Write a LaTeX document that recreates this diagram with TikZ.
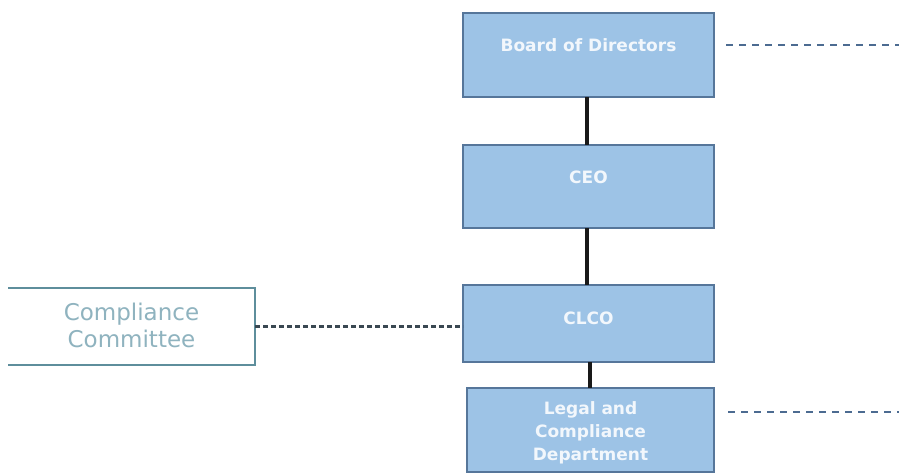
\documentclass[tikz,border=0pt]{standalone}
\usepackage{fontspec}
\setmainfont{DejaVu Sans}
\definecolor{boxfill}{HTML}{9DC3E6}
\definecolor{boxline}{HTML}{56769A}
\definecolor{boxtext}{HTML}{F2F7FC}
\definecolor{ccline}{HTML}{5E8E9C}
\definecolor{cctext}{HTML}{8FB3BF}
\definecolor{dashright}{HTML}{4C6B91}
\definecolor{dashleft}{HTML}{3A4852}
\begin{document}
\begin{tikzpicture}[x=1pt,y=-1pt,
  orgbox/.style={draw=boxline,line width=2.5pt,fill=boxfill,rectangle,inner sep=0pt,outer sep=0pt},
  boxlabel/.style={text=boxtext,font=\fontsize{17}{23}\selectfont\bfseries,align=center},
  cclabel/.style={text=cctext,font=\fontsize{23}{27}\selectfont,align=center},
  solidlink/.style={line width=4.5pt,black!90},
  leftdash/.style={line width=3pt,dashleft,dash pattern=on 5pt off 3pt},
  rightdash/.style={line width=1.6pt,dashright,dash pattern=on 7pt off 6pt}]
\useasboundingbox (0,0) rectangle (899,474);
\fill[white] (0,0) rectangle (899,474);

\node[orgbox,minimum width=251pt,minimum height=84pt,
  label={[boxlabel,yshift=10pt]center:Board of Directors}] (board) at (588.5,55) {};
\node[orgbox,minimum width=251pt,minimum height=83pt,
  label={[boxlabel,yshift=9pt]center:CEO}] (ceo) at (588.5,186.5) {};
\node[orgbox,minimum width=251pt,minimum height=77pt,
  label={[boxlabel,yshift=5pt]center:CLCO}] (clco) at (588.5,323.5) {};
\node[orgbox,minimum width=247pt,minimum height=84pt,
  label={[boxlabel,yshift=-3pt]center:Legal and\\Compliance\\Department}] (legal) at (590.5,430) {};
\node[fill=white,rectangle,inner sep=0pt,outer sep=0pt,minimum width=247pt,minimum height=77pt,
  label={[cclabel,yshift=1pt]center:Compliance\\Committee}] (cc) at (131.5,326.5) {};
\draw[ccline,line width=2.5pt] (cc.north west) -- (cc.north east) -- (cc.south east) -- (cc.south west);

\draw[solidlink] ([xshift=-1.5pt]board.south) -- ([xshift=-1.5pt]ceo.north);
\draw[solidlink] ([xshift=-1.5pt]ceo.south) -- ([xshift=-1.5pt]clco.north);
\draw[solidlink] ([xshift=1.5pt]clco.south) -- ([xshift=-0.5pt]legal.north);

\draw[leftdash] ([yshift=0.5pt]cc.east) -- ([yshift=0.5pt]cc.east -| clco.west);

\coordinate (rtop) at (899,45);
\coordinate (rbot) at (899,412);
\draw[rightdash] (board.east |- rtop) ++(12,0) -- (rtop);
\draw[rightdash] (legal.east |- rbot) ++(14,0) -- (rbot);
\end{tikzpicture}
\end{document}
